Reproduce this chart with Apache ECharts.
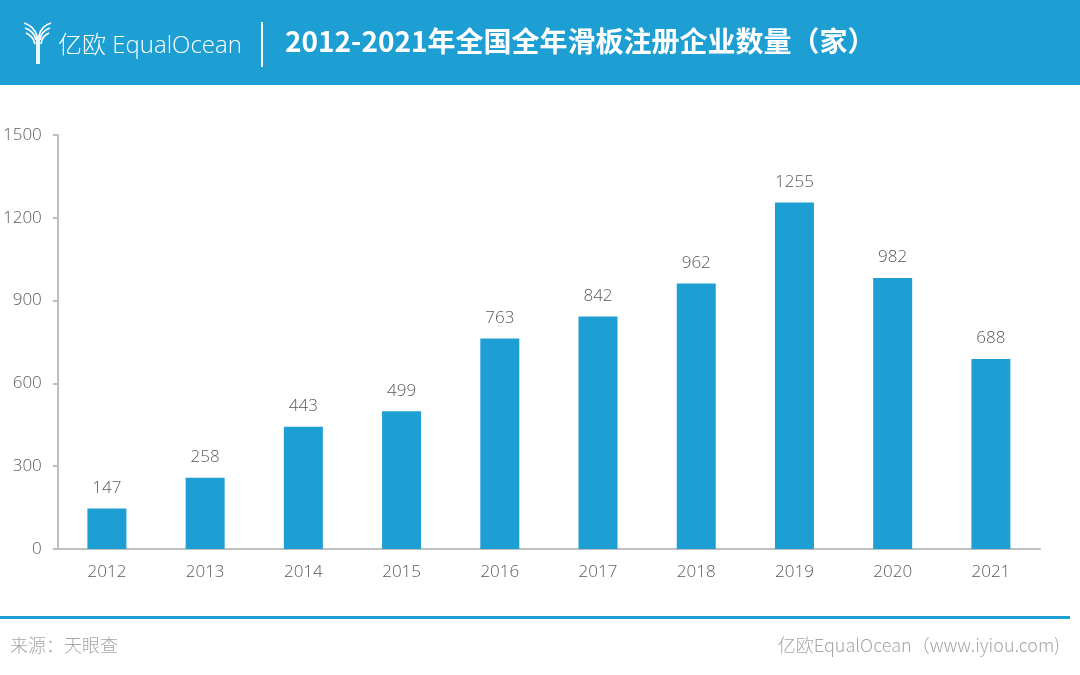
<!DOCTYPE html>
<html><head><meta charset="utf-8">
<script src="https://cdn.jsdelivr.net/npm/echarts@6/dist/echarts.min.js"></script>
<style>html,body{margin:0;padding:0;background:#fff}#c{width:1080px;height:675px}</style>
</head><body><div id="c"></div>
<script>
const categories = ['2012','2013','2014','2015','2016','2017','2018','2019','2020','2021'];
const values = [147,258,443,499,763,842,962,1255,982,688];
const yTicks = [0,300,600,900,1200,1500];
const titleText = '2012-2021年全国全年滑板注册企业数量（家）';
const sourceText = '来源：天眼查';
const creditText = '亿欧EqualOcean（www.iyiou.com)';

const chart = echarts.init(document.getElementById('c'));
const font = '"Open Sans","Noto Sans CJK SC",sans-serif';
const iconStroke = {stroke:'#fff',lineWidth:1.8,fill:null};
function curve(x1,y1,cx,cy,x2,y2){return {type:'bezierCurve',shape:{x1:x1,y1:y1,cpx1:cx,cpy1:cy,x2:x2,y2:y2},style:iconStroke};}
chart.setOption({
  animation:false,
  grid:{left:56,right:40,top:135,bottom:126,containLabel:false},
  xAxis:{type:'category',data:categories,
    axisLine:{lineStyle:{color:'#bfbfbf',width:2}},
    axisTick:{show:false},
    axisLabel:{color:'#595959',fontSize:17,fontWeight:300,fontFamily:font,margin:15}},
  yAxis:{type:'value',min:yTicks[0],max:yTicks[yTicks.length-1],interval:300,
    axisLine:{show:true,lineStyle:{color:'#bfbfbf',width:2}},
    axisTick:{show:true,length:5,lineStyle:{color:'#bfbfbf',width:2}},
    splitLine:{show:false},
    axisLabel:{color:'#595959',fontSize:17,fontWeight:300,fontFamily:font,margin:16,formatter:v=>String(v)}},
  series:[{type:'bar',data:values,barWidth:39,itemStyle:{color:'#1e9fd4'},
    label:{show:true,position:'top',distance:12,color:'#595959',fontSize:17,fontWeight:300,fontFamily:font}}],
  graphic:[
    {type:'rect',left:0,top:0,shape:{width:1080,height:85},style:{fill:'#1e9fd4'}},
    curve(24,23,34,26,37,36), curve(25,28,34,31,36,40), curve(26,33,33,36,35,44),
    curve(51,23,41,26,39,36), curve(50,28,41,31,40,40), curve(49,33,42,36,41,44),
    {type:'line',shape:{x1:37,y1:36,x2:37,y2:64},style:iconStroke},
    {type:'line',shape:{x1:39,y1:36,x2:39,y2:64},style:iconStroke},
    {type:'text',left:58,top:34,style:{text:'亿欧 EqualOcean',fill:'#fff',font:'300 24px '+font}},
    {type:'rect',left:261,top:22,shape:{width:2,height:45},style:{fill:'#fff'}},
    {type:'text',left:285,top:27,style:{text:titleText,fill:'#fff',font:'bold 28px "Noto Sans CJK SC","Open Sans",sans-serif'}},
    {type:'rect',left:0,top:616,shape:{width:1070,height:3},style:{fill:'#1e9fd4'}},
    {type:'text',left:10,top:636,style:{text:sourceText,fill:'#a6a6a6',font:'300 18px "Noto Sans CJK SC",sans-serif'}},
    {type:'text',right:20,top:636,style:{text:creditText,fill:'#a6a6a6',font:'300 18px "Noto Sans CJK SC",sans-serif'}}
  ]
});
</script></body></html>
